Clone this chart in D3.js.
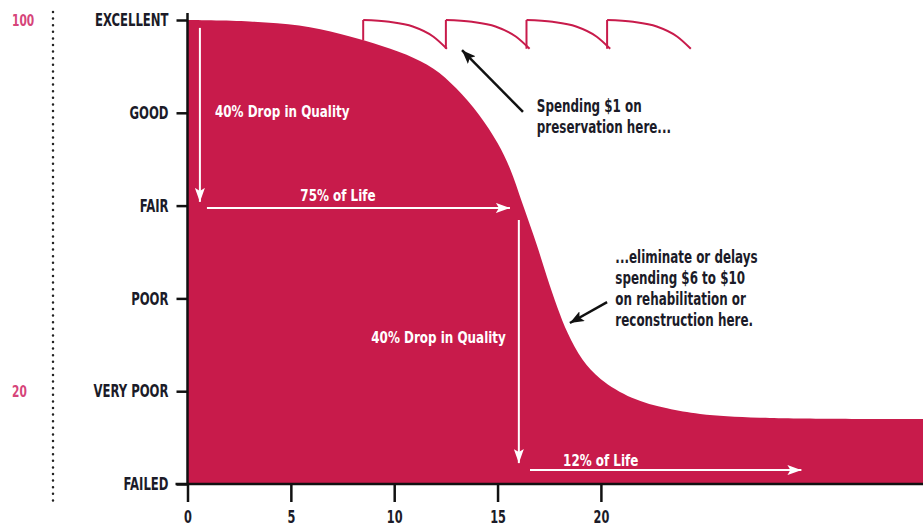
<!DOCTYPE html>
<html>
<head>
<meta charset="utf-8">
<script src="https://cdn.jsdelivr.net/npm/d3@7"></script>
<style>
  html, body { margin: 0; padding: 0; background: #fff; }
  svg text { font-family: "Liberation Sans Narrow", "DejaVu Sans Condensed", "Arial Narrow", sans-serif; font-weight: bold; }
</style>
</head>
<body>
<div id="chart"></div>
<script>
// pavement condition over time: preservation vs. rehabilitation
const qualityLevels = ['FAILED', 'VERY POOR', 'POOR', 'FAIR', 'GOOD', 'EXCELLENT'];
const qualityValues = [0, 20, 40, 60, 80, 100];
const scoreTicks = [100, 20];
const yearTicks = [0, 5, 10, 15, 20];

// main deterioration curve (years, quality 0-100)
const curveYears = [0, 3, 5.4, 7.4, 9, 10.6, 11.9, 13, 14.1, 15, 15.6, 16.2, 16.9, 17.4, 17.9, 18.4, 19.1, 20, 21.5, 23.2, 24.8, 27.7, 36];
const curveQuality = [100, 99.7, 98.8, 97, 95, 92.5, 89.5, 85.3, 79.6, 73.5, 68, 60.5, 51.5, 44.5, 38, 32.5, 26.9, 22.6, 18.6, 16.3, 15.1, 14.3, 14];

// preservation treatments: start year, quality before treatment, then arc shape
const preservationYears = [8.5, 12.5, 16.4, 20.3];
const preservationBase = [95.6, 93.8, 93.8, 93.8];
const arcOffsets = [0, 1.26, 2.4, 3.4, 4.05];
const arcQuality = [100, 99.6, 98.6, 96.4, 93.8];

// white arrows inside the area
const whiteArrows = [
  { x1: 0.6, q1: 98.3, x2: 0.6, q2: 60.8 },
  { x1: 0.94, q1: 59.5, x2: 15.6, q2: 59.5 },
  { x1: 16.03, q1: 56.9, x2: 16.03, q2: 4.5 },
  { x1: 16.57, q1: 3.0, x2: 29.7, q2: 3.0 }
];
const whiteLabels = [
  { text: '40% Drop in Quality', t: 1.33, q: 79.1, anchor: 'start' },
  { text: '75% of Life', t: 7.28, q: 61.0, anchor: 'middle' },
  { text: '40% Drop in Quality', t: 15.4, q: 30.4, anchor: 'end' },
  { text: '12% of Life', t: 18.17, q: 3.9, anchor: 'start' }
];

// black callouts
const blackArrows = [
  { x1: 16.23, q1: 80.2, x2: 13.28, q2: 93.5 },
  { x1: 20.3, q1: 39.2, x2: 18.5, q2: 34.7 }
];
const callouts = [
  { lines: ['Spending $1 on', 'preservation here...'], t: 16.9, q: 80.2 },
  { lines: ['...eliminate or delays', 'spending $6 to $10', 'on rehabilitation or', 'reconstruction here.'], t: 20.7, q: 47.6 }
];

const width = 923;
const height = 527;
const red = '#c81b4b';
const ink = '#1b1b28';

const svg = d3.select('#chart')
  .append('svg')
  .attr('width', width)
  .attr('height', height);

const x = d3.scaleLinear().domain([0, 36]).range([187.5, 187.5 + 36 * 20.67]);
const y = d3.scaleLinear().domain([0, 100]).range([484, 20]);

// the original uses a very condensed face; squeeze text horizontally
function squeeze(sel, s) {
  sel.each(function () {
    const t = d3.select(this);
    const tx = +t.attr('x') || 0;
    const ty = +t.attr('y') || 0;
    t.attr('x', 0).attr('y', 0)
      .attr('transform', `translate(${tx},${ty}) scale(${s},1)`);
  });
}

// markers
const defs = svg.append('defs');
defs.append('marker')
  .attr('id', 'headWhite')
  .attr('viewBox', '0 0 14 10')
  .attr('refX', 14)
  .attr('refY', 5)
  .attr('markerWidth', 14)
  .attr('markerHeight', 10)
  .attr('markerUnits', 'userSpaceOnUse')
  .attr('orient', 'auto')
  .append('path')
  .attr('d', 'M0,0 L14,5 L0,10 L3,5 z')
  .attr('fill', '#fff');

defs.append('marker')
  .attr('id', 'headBlack')
  .attr('viewBox', '0 0 14 11')
  .attr('refX', 14)
  .attr('refY', 5.5)
  .attr('markerWidth', 14)
  .attr('markerHeight', 11)
  .attr('markerUnits', 'userSpaceOnUse')
  .attr('orient', 'auto')
  .append('path')
  .attr('d', 'M0,0 L14,5.5 L0,11 L3,5.5 z')
  .attr('fill', '#111');

// area
const pts = curveYears.map((t, i) => ({ t, q: curveQuality[i] }));
const area = d3.area()
  .x((d) => x(d.t))
  .y0(y(0))
  .y1((d) => y(d.q))
  .curve(d3.curveCatmullRom.alpha(0.5));

svg.append('path')
  .datum(pts)
  .attr('d', area)
  .attr('fill', red);

// preservation arcs
const arcLine = d3.line()
  .x((d) => x(d.t))
  .y((d) => y(d.q))
  .curve(d3.curveMonotoneX);

preservationYears.forEach((t0, i) => {
  svg.append('line')
    .attr('x1', x(t0))
    .attr('x2', x(t0))
    .attr('y1', y(preservationBase[i]))
    .attr('y2', y(100))
    .attr('stroke', red)
    .attr('stroke-width', 2);
  svg.append('path')
    .datum(arcOffsets.map((o, j) => ({ t: t0 + o, q: arcQuality[j] })))
    .attr('d', arcLine)
    .attr('fill', 'none')
    .attr('stroke', red)
    .attr('stroke-width', 2);
});

// white arrows + labels
svg.selectAll('.warrow')
  .data(whiteArrows)
  .enter()
  .append('line')
  .attr('class', 'warrow')
  .attr('x1', (d) => x(d.x1))
  .attr('y1', (d) => y(d.q1))
  .attr('x2', (d) => x(d.x2))
  .attr('y2', (d) => y(d.q2))
  .attr('stroke', '#fff')
  .attr('stroke-width', 2)
  .attr('marker-end', 'url(#headWhite)');

svg.selectAll('.wlabel')
  .data(whiteLabels)
  .enter()
  .append('text')
  .attr('class', 'wlabel')
  .attr('x', (d) => x(d.t))
  .attr('y', (d) => y(d.q))
  .attr('text-anchor', (d) => d.anchor)
  .attr('fill', '#fff')
  .attr('font-size', 16)
  .text((d) => d.text)
  .call(squeeze, 0.83);

// black callouts
svg.selectAll('.barrow')
  .data(blackArrows)
  .enter()
  .append('line')
  .attr('class', 'barrow')
  .attr('x1', (d) => x(d.x1))
  .attr('y1', (d) => y(d.q1))
  .attr('x2', (d) => x(d.x2))
  .attr('y2', (d) => y(d.q2))
  .attr('stroke', '#111')
  .attr('stroke-width', 2.5)
  .attr('marker-end', 'url(#headBlack)');

callouts.forEach((c) => {
  const txt = svg.append('text')
    .attr('transform', `translate(${x(c.t)},${y(c.q)}) scale(0.78,1)`)
    .attr('fill', ink)
    .attr('font-size', 17);
  c.lines.forEach((l, i) => {
    txt.append('tspan')
      .attr('x', 0)
      .attr('dy', i === 0 ? 0 : 21)
      .text(l);
  });
});

// y axis
const yAxis = svg.append('g')
  .attr('transform', `translate(${x(0)},0)`)
  .call(
    d3.axisLeft(y)
      .tickValues(qualityValues)
      .tickFormat((d, i) => qualityLevels[i])
      .tickSize(11)
      .tickSizeOuter(0)
      .tickPadding(8)
  );
yAxis.select('.domain').remove();
yAxis.selectAll('.tick line').attr('stroke', '#111').attr('stroke-width', 2.5);
yAxis.selectAll('.tick text')
  .attr('fill', ink)
  .attr('font-size', 18)
  .attr('font-family', null)
  .call(squeeze, 0.72);

svg.append('line')
  .attr('x1', x(0))
  .attr('x2', x(0))
  .attr('y1', y(100) - 7)
  .attr('y2', y(0))
  .attr('stroke', '#111')
  .attr('stroke-width', 2.5);

// x axis
const xAxis = svg.append('g')
  .attr('transform', `translate(0,${y(0)})`)
  .call(
    d3.axisBottom(x)
      .tickValues(yearTicks)
      .tickSize(18)
      .tickSizeOuter(0)
      .tickPadding(9)
  );
xAxis.select('.domain').remove();
xAxis.selectAll('.tick line').attr('stroke', '#111').attr('stroke-width', 2.5);
xAxis.selectAll('.tick text')
  .attr('fill', ink)
  .attr('font-size', 17.5)
  .attr('font-family', null)
  .call(squeeze, 0.72);

svg.append('line')
  .attr('x1', x(0) - 12)
  .attr('x2', width)
  .attr('y1', y(0))
  .attr('y2', y(0))
  .attr('stroke', '#111')
  .attr('stroke-width', 2.5);

// score scale on the far left
svg.append('line')
  .attr('x1', 53)
  .attr('x2', 53)
  .attr('y1', y(100) - 8)
  .attr('y2', y(0) + 22)
  .attr('stroke', '#222')
  .attr('stroke-width', 2.5)
  .attr('stroke-linecap', 'round')
  .attr('stroke-dasharray', '0,6.6');

svg.selectAll('.score')
  .data(scoreTicks)
  .enter()
  .append('text')
  .attr('class', 'score')
  .attr('x', 12)
  .attr('y', (d) => y(d))
  .attr('dy', '0.35em')
  .attr('fill', '#d6457a')
  .attr('font-size', 16)
  .text((d) => d)
  .call(squeeze, 0.74);
</script>
</body>
</html>
